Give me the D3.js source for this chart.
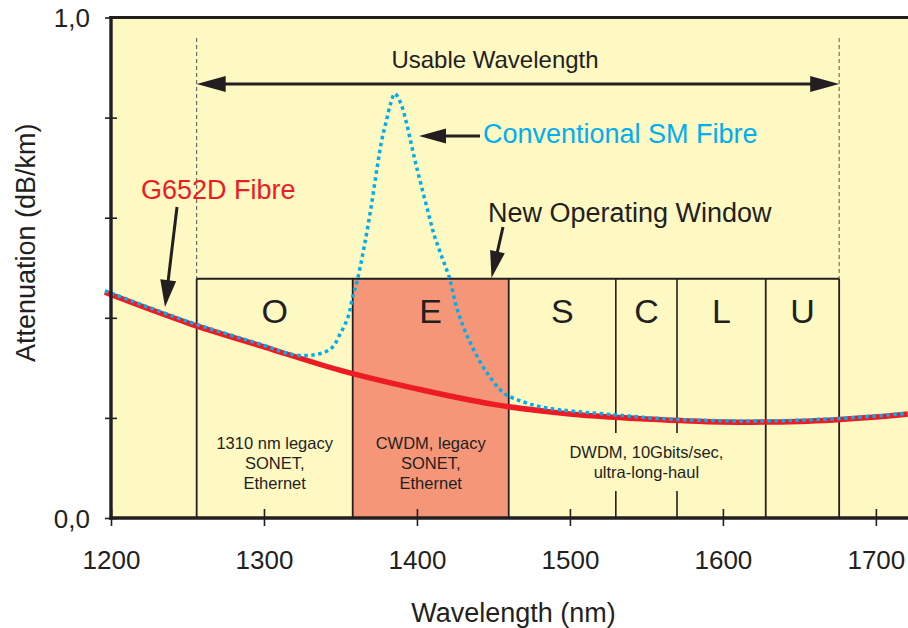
<!DOCTYPE html>
<html>
<head>
<meta charset="utf-8">
<script src="https://cdn.jsdelivr.net/npm/d3@7"></script>
<style>
  html, body { margin: 0; padding: 0; background: #ffffff; }
  svg { display: block; }
  text { font-family: "Liberation Sans", Arial, Helvetica, sans-serif; fill: #231f20; }
</style>
</head>
<body>
<svg id="chart" width="908" height="628"></svg>
<script>
// ---------- data ----------
const wavelengthTicks = [1200, 1300, 1400, 1500, 1600, 1700];
const attTicks = [0, 0.2, 0.4, 0.6, 0.8, 1.0];
const attTickLabels = ["0,0", "", "", "", "", "1,0"];

const bandNames = ["O", "E", "S", "C", "L", "U"];
const bandStart = [1256, 1358, 1460, 1530, 1570, 1628];
const bandEnd   = [1358, 1460, 1530, 1570, 1628, 1676];
const usableRange = [1256, 1676];

const noteBands = ["O", "E", "C"];
const noteLines = [
  ["1310 nm legacy", "SONET,", "Ethernet"],
  ["CWDM, legacy", "SONET,", "Ethernet"],
  ["DWDM, 10Gbits/sec,", "ultra-long-haul"]
];

const g652Wavelength  = [1196, 1250, 1300, 1350, 1400, 1450, 1500, 1550, 1600, 1650, 1700, 1721];
const g652Attenuation = [0.451, 0.390, 0.342, 0.295, 0.258, 0.227, 0.208, 0.198, 0.192, 0.193, 0.202, 0.208];

const smWavelength  = [1196, 1250, 1300, 1318, 1333, 1344, 1350, 1355, 1358, 1361,
                       1365.5, 1370, 1374, 1377, 1380, 1383, 1385.5, 1389.5, 1393, 1396,
                       1399, 1402.5, 1407, 1411, 1415.5, 1421, 1426.5, 1435, 1446, 1457,
                       1463.5, 1481, 1530, 1570, 1628, 1676, 1721];
const smAttenuation = [0.454, 0.393, 0.345, 0.327, 0.326, 0.339, 0.369, 0.402, 0.442, 0.475,
                       0.542, 0.621, 0.701, 0.755, 0.794, 0.830, 0.848, 0.828, 0.791, 0.751,
                       0.711, 0.668, 0.615, 0.568, 0.528, 0.482, 0.415, 0.349, 0.289, 0.249,
                       0.239, 0.222, 0.206, 0.197, 0.194, 0.199, 0.209];

// ---------- layout ----------
const svg = d3.select("#chart");
const ink = "#231f20";
const bg = "#fef8c3";
const eFill = "#f59678";
const red = "#ed1c24";
const blue = "#00aeef";

const x = d3.scaleLinear().domain([1200, 1721]).range([111, 908]);
const y = d3.scaleLinear().domain([0, 1]).range([518, 17.5]);

const bandTop = y(0.478);

// plot background
svg.append("rect")
  .attr("x", x(1200)).attr("y", y(1))
  .attr("width", 908 - x(1200)).attr("height", y(0) - y(1))
  .attr("fill", bg);

// E band fill
bandNames.forEach((b, i) => {
  if (b === "E") {
    svg.append("rect")
      .attr("x", x(bandStart[i])).attr("y", bandTop)
      .attr("width", x(bandEnd[i]) - x(bandStart[i]))
      .attr("height", y(0) - bandTop)
      .attr("fill", eFill);
  }
});

// dashed usable-range lines
usableRange.forEach(w => {
  svg.append("line")
    .attr("x1", x(w)).attr("x2", x(w))
    .attr("y1", 38).attr("y2", bandTop)
    .attr("stroke", "#555").attr("stroke-width", 1)
    .attr("stroke-dasharray", "4,3");
});

// band box
const boxG = svg.append("g");
boxG.append("line")
  .attr("x1", x(bandStart[0])).attr("x2", x(bandEnd[bandEnd.length - 1]))
  .attr("y1", bandTop).attr("y2", bandTop)
  .attr("stroke", ink).attr("stroke-width", 2);
const edges = [bandStart[0]].concat(bandEnd);
edges.forEach(w => {
  const split = (w === 1530 || w === 1570);
  if (split) {
    boxG.append("line").attr("x1", x(w)).attr("x2", x(w))
      .attr("y1", bandTop).attr("y2", 433)
      .attr("stroke", ink).attr("stroke-width", 1.6);
    boxG.append("line").attr("x1", x(w)).attr("x2", x(w))
      .attr("y1", 491).attr("y2", y(0))
      .attr("stroke", ink).attr("stroke-width", 1.6);
  } else {
    boxG.append("line").attr("x1", x(w)).attr("x2", x(w))
      .attr("y1", bandTop).attr("y2", y(0))
      .attr("stroke", ink).attr("stroke-width", 1.8);
  }
});

// band letters
bandNames.forEach((b, i) => {
  svg.append("text")
    .attr("x", (x(bandStart[i]) + x(bandEnd[i])) / 2)
    .attr("y", 323)
    .attr("text-anchor", "middle")
    .attr("font-size", 34)
    .text(b);
});

// notes
const noteBaselines = [[449, 469, 489], [449, 469, 489], [458, 478]];
noteBands.forEach((b, k) => {
  const i = bandNames.indexOf(b);
  const cx = (x(bandStart[i]) + x(bandEnd[i])) / 2;
  noteLines[k].forEach((t, j) => {
    svg.append("text")
      .attr("x", cx).attr("y", noteBaselines[k][j])
      .attr("text-anchor", "middle")
      .attr("font-size", 16.5)
      .text(t);
  });
});

// curves
const lineGen = d3.line()
  .x(d => x(d[0])).y(d => y(d[1]))
  .curve(d3.curveCatmullRom.alpha(0.5));

svg.append("path")
  .datum(g652Wavelength.map((w, i) => [w, g652Attenuation[i]]))
  .attr("d", lineGen)
  .attr("fill", "none").attr("stroke", red).attr("stroke-width", 5.5);

svg.append("path")
  .datum(smWavelength.map((w, i) => [w, smAttenuation[i]]))
  .attr("d", lineGen)
  .attr("fill", "none").attr("stroke", blue).attr("stroke-width", 3.5)
  .attr("stroke-dasharray", "3.5,3.5");

// axes
const xAxis = svg.append("g")
  .attr("transform", `translate(0,${y(0)})`)
  .call(d3.axisBottom(x).tickValues(wavelengthTicks).tickFormat(d3.format("d")).tickSizeOuter(0));
xAxis.select(".domain").remove();
xAxis.selectAll(".tick line").attr("y1", -9).attr("y2", 8).attr("stroke", ink).attr("stroke-width", 1.6);
xAxis.selectAll(".tick text").attr("y", 51).attr("dy", 0)
  .attr("font-size", 26).attr("fill", ink)
  .attr("font-family", "Liberation Sans, Arial, sans-serif");

const yAxis = svg.append("g")
  .attr("transform", `translate(${x(1200)},0)`)
  .call(d3.axisLeft(y).tickValues(attTicks).tickFormat((d, i) => attTickLabels[i]).tickSizeOuter(0));
yAxis.select(".domain").remove();
yAxis.selectAll(".tick line").attr("x1", -6).attr("x2", 6).attr("stroke", ink).attr("stroke-width", 1.6);
yAxis.selectAll(".tick text").attr("x", -21).attr("dy", "0.36em")
  .attr("font-size", 26).attr("fill", ink)
  .attr("font-family", "Liberation Sans, Arial, sans-serif");

// axis lines & top border
svg.append("line").attr("x1", x(1200)).attr("x2", x(1200))
  .attr("y1", y(1) - 1.5).attr("y2", y(0) + 1.7)
  .attr("stroke", ink).attr("stroke-width", 3.4);
svg.append("line").attr("x1", x(1200) - 1.7).attr("x2", 908)
  .attr("y1", y(0)).attr("y2", y(0))
  .attr("stroke", ink).attr("stroke-width", 3.4);
svg.append("line").attr("x1", x(1200) - 1.7).attr("x2", 908)
  .attr("y1", y(1)).attr("y2", y(1))
  .attr("stroke", ink).attr("stroke-width", 3);

// axis titles
svg.append("text")
  .attr("x", (x(1200) + 908) / 2 + 4).attr("y", 622)
  .attr("text-anchor", "middle").attr("font-size", 27)
  .text("Wavelength (nm)");
svg.append("text")
  .attr("transform", `translate(35,${y(0.55)}) rotate(-90)`)
  .attr("text-anchor", "middle").attr("font-size", 27)
  .text("Attenuation (dB/km)");

// arrows
function arrow(x1, y1, x2, y2, headLen, halfW, both) {
  const g = svg.append("g");
  const dx = x2 - x1, dy = y2 - y1, L = Math.hypot(dx, dy);
  const ux = dx / L, uy = dy / L, px = -uy, py = ux;
  const sx = both ? x1 + ux * headLen * 0.8 : x1;
  const sy = both ? y1 + uy * headLen * 0.8 : y1;
  g.append("line")
    .attr("x1", sx).attr("y1", sy)
    .attr("x2", x2 - ux * headLen * 0.8).attr("y2", y2 - uy * headLen * 0.8)
    .attr("stroke", ink).attr("stroke-width", 3);
  const head = (tx, ty, vx, vy) => {
    const bx = tx - vx * headLen, by = ty - vy * headLen;
    g.append("path")
      .attr("d", `M${tx},${ty}L${bx + px * halfW},${by + py * halfW}L${bx - px * halfW},${by - py * halfW}Z`)
      .attr("fill", ink);
  };
  head(x2, y2, ux, uy);
  if (both) head(x1, y1, -ux, -uy);
}

arrow(x(usableRange[0]), 84, x(usableRange[1]), 84, 29, 8, true);
arrow(177, 207, 165, 307, 27, 8, false);
arrow(480, 136, 419, 136, 27, 7.5, false);
arrow(503, 227, 491.5, 278, 27, 7.5, false);

// annotation texts
svg.append("text").attr("x", 495).attr("y", 68)
  .attr("text-anchor", "middle").attr("font-size", 24)
  .text("Usable Wavelength");
svg.append("text").attr("x", 141).attr("y", 199)
  .attr("font-size", 27).style("fill", red)
  .text("G652D Fibre");
svg.append("text").attr("x", 483).attr("y", 143)
  .attr("font-size", 27).style("fill", blue)
  .text("Conventional SM Fibre");
svg.append("text").attr("x", 488).attr("y", 222)
  .attr("font-size", 27)
  .text("New Operating Window");
</script>
</body>
</html>
